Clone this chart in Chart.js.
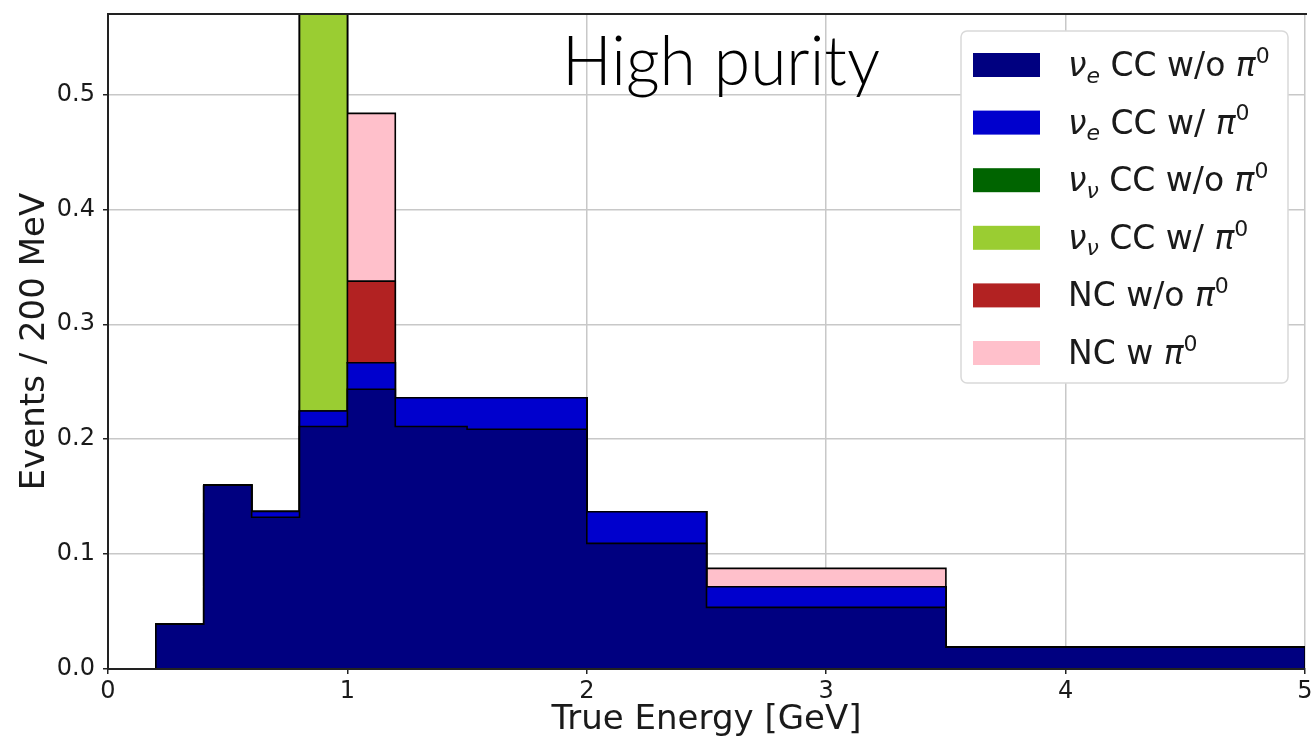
<!DOCTYPE html>
<html><head><meta charset="utf-8">
<script src="https://cdn.jsdelivr.net/npm/chart.js@4/dist/chart.umd.min.js"></script>
<style>html,body{margin:0;padding:0;overflow:hidden;background:#fff}#wrap{width:1330px;height:742px;position:relative}</style>
</head><body><div id="wrap"><canvas id="c" width="1330" height="742"></canvas></div>
<script>
// ---- data ----
const binEdges = [0.2, 0.4, 0.6, 0.8, 1.0, 1.2, 1.5, 2.0, 2.5, 3.5, 5.0];
const seriesLabels = ["ν_e CC w/o π^0", "ν_e CC w/ π^0", "ν_ν CC w/o π^0", "ν_ν CC w/ π^0", "NC w/o π^0", "NC w π^0"];
const nueCCnoPi0  = [0.039, 0.160, 0.132, 0.211, 0.2435, 0.211, 0.2087, 0.1093, 0.0536, 0.019];
const nueCCpi0    = [0, 0, 0.005, 0.0135, 0.023, 0.025, 0.0273, 0.0275, 0.018, 0];
const numuCCnoPi0 = [0, 0, 0, 0, 0, 0, 0, 0, 0, 0];
const numuCCpi0   = [0, 0, 0, 0.40, 0, 0, 0, 0, 0, 0];
const ncNoPi0     = [0, 0, 0, 0, 0.071, 0, 0, 0, 0, 0];
const ncPi0       = [0, 0, 0, 0, 0.146, 0, 0, 0, 0.016, 0];
const seriesColors = ['#000080', '#0000cd', '#006400', '#9acd32', '#b22222', '#ffc0cb'];
const xTicks = [0, 1, 2, 3, 4, 5];
const yTicks = [0.0, 0.1, 0.2, 0.3, 0.4, 0.5];
const plotTitle = "High purity";

// ---- build stacked step outlines (stepfilled histogram) ----
const allSeries = [nueCCnoPi0, nueCCpi0, numuCCnoPi0, numuCCpi0, ncNoPi0, ncPi0];
const cum = new Array(nueCCnoPi0.length).fill(0);
const datasets = allSeries.map((vals, i) => {
  vals.forEach((v, k) => { cum[k] += v; });
  const pts = [{x: binEdges[0], y: 0}];
  cum.forEach((c, k) => pts.push({x: binEdges[k], y: c}));
  pts.push({x: binEdges[binEdges.length - 1], y: cum[cum.length - 1]});
  pts.push({x: binEdges[binEdges.length - 1], y: 0});
  return {
    label: seriesLabels[i], data: pts, stepped: 'before',
    fill: i === 0 ? 'origin' : '-1',
    backgroundColor: seriesColors[i], borderColor: '#000', borderWidth: 1.6,
    pointRadius: 0, pointHoverRadius: 0, tension: 0
  };
});

const FONT = '"DejaVu Sans", sans-serif';
const TXT = '#1a1a1a';

function drawMath(ctx, text, x, y, size) {
  const big = size, small = Math.round(size * 0.68);
  let cx = x;
  const greek = /[νπ]/;
  for (let i = 0; i < text.length; i++) {
    let ch = text[i];
    let sz = big, dy = 0, italic = false;
    if (ch === '_' || ch === '^') {
      const mode = ch; ch = text[++i];
      sz = small; dy = mode === '_' ? size * 0.2 : -size * 0.4;
      italic = /[a-zνπ]/.test(ch);
    } else if (greek.test(ch)) { italic = true; }
    ctx.font = (italic ? 'italic ' : '') + sz + 'px ' + FONT;
    ctx.fillText(ch, cx, y + dy);
    cx += ctx.measureText(ch).width;
  }
}

const decor = {
  id: 'decor',
  afterDatasetsDraw(chart) {
    const {ctx, chartArea: a} = chart;
    ctx.save();
    ctx.strokeStyle = '#222'; ctx.lineWidth = 2;
    ctx.beginPath(); ctx.moveTo(a.left, a.top); ctx.lineTo(a.right + 2, a.top); ctx.stroke();
    ctx.restore();
  },
  afterDraw(chart) {
    const {ctx} = chart;
    ctx.save();
    // title text
    ctx.fillStyle = '#000';
    ctx.font = '300 68px Lato, "Open Sans", sans-serif';
    ctx.textBaseline = 'alphabetic'; ctx.textAlign = 'left';
    ctx.fillText(plotTitle, 562, 85, 318);
    // legend box
    const bx = 961, by = 31, bw = 327, bh = 352, r = 6;
    ctx.beginPath();
    ctx.roundRect(bx, by, bw, bh, r);
    ctx.fillStyle = '#fff'; ctx.fill();
    ctx.strokeStyle = '#d9d9d9'; ctx.lineWidth = 1.5; ctx.stroke();
    chart.data.datasets.forEach((ds, i) => {
      const cy = 65 + i * 57.6;
      ctx.fillStyle = ds.backgroundColor;
      ctx.fillRect(973, cy - 12, 67, 24);
      ctx.fillStyle = TXT;
      drawMath(ctx, ds.label, 1068, cy + 11, 33);
    });
    ctx.restore();
  }
};

new Chart(document.getElementById('c'), {
  type: 'line',
  data: {datasets},
  options: {
    responsive: false, animation: false, devicePixelRatio: 1,
    layout: {padding: {top: 14, right: 25, bottom: 0, left: 0}},
    plugins: {legend: {display: false}, tooltip: {enabled: false}},
    scales: {
      x: {
        type: 'linear', min: 0, max: 5,
        afterFit(s) { s.height = 73; s.paddingLeft = 0; s.paddingRight = 0; },
        afterBuildTicks(s) { s.ticks = xTicks.map(v => ({value: v})); },
        ticks: {font: {family: FONT, size: 24}, color: TXT, padding: 3, maxRotation: 0, autoSkip: false, callback: v => String(v)},
        grid: {color: '#c8c8c8', lineWidth: 1.5, tickColor: '#222', tickLength: 5, tickWidth: 1.5},
        border: {color: '#222', width: 2, z: 1},
        title: {display: true, text: 'True Energy [GeV]', font: {family: FONT, size: 34}, color: TXT, padding: {top: 0, bottom: 1}}
      },
      y: {
        min: 0, max: 0.57,
        afterFit(s) { s.width = 108; s.paddingTop = 0; s.paddingBottom = 0; },
        afterBuildTicks(s) { s.ticks = yTicks.map(v => ({value: v})); },
        ticks: {font: {family: FONT, size: 24}, color: TXT, padding: 8, callback: v => Number(v).toFixed(1)},
        grid: {color: '#c8c8c8', lineWidth: 1.5, tickColor: '#222', tickLength: 5, tickWidth: 1.5},
        border: {color: '#222', width: 2, z: 1},
        title: {display: true, text: 'Events / 200 MeV', font: {family: FONT, size: 34}, color: TXT, padding: {top: 15, bottom: 0}}
      }
    }
  },
  plugins: [decor]
});
</script>
</body></html>
